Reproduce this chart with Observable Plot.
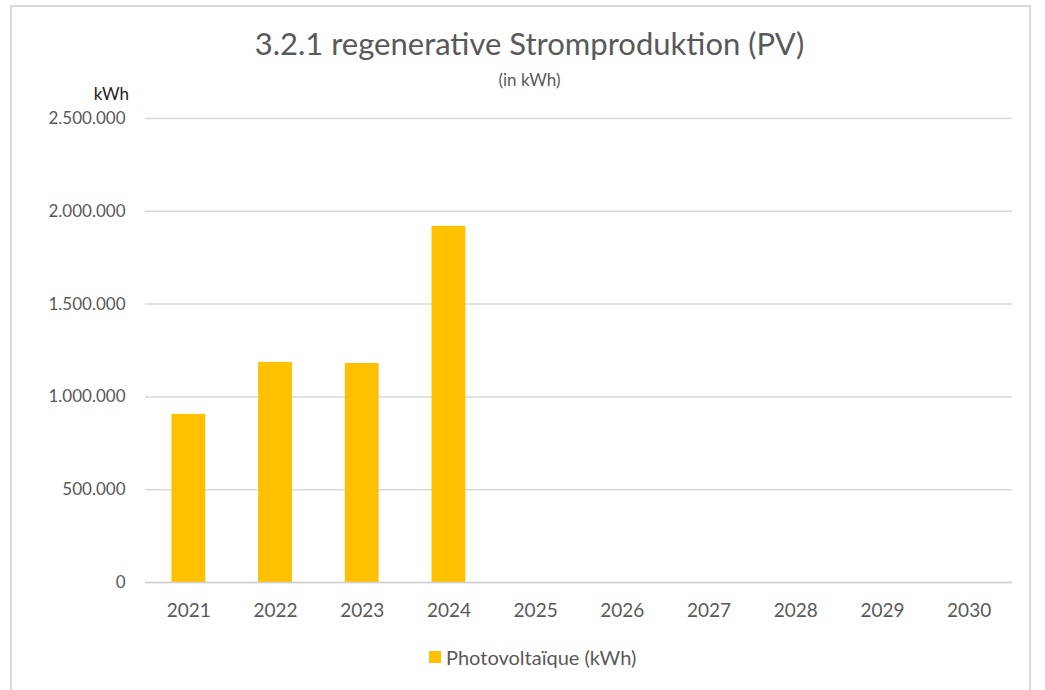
<!DOCTYPE html>
<html>
<head>
<meta charset="utf-8">
<script src="https://cdn.jsdelivr.net/npm/d3@7"></script>
<script src="https://cdn.jsdelivr.net/npm/@observablehq/plot@0.6"></script>
<style>
  body { margin: 0; background: #fff; font-family: Lato, "Open Sans", sans-serif; }
  #wrap { position: relative; width: 1045px; height: 690px; overflow: hidden; }
  #frame { position: absolute; left: 10px; top: 5px; width: 1021px; height: 700px; border: 2px solid #d9d9d9; box-sizing: border-box; }
  #chart { position: absolute; left: 0; top: 0; }
  #chart svg g[aria-label="x-axis tick label"] { font-size: 19px; }
  .lbl { position: absolute; white-space: nowrap; line-height: 1; }
  #title { left: 529.5px; top: 28px; transform: translateX(-50%); font-size: 31px; color: #595959; }
  #subtitle { left: 529.5px; top: 71px; transform: translateX(-50%); font-size: 17px; color: #595959; }
  #unit { right: 916px; top: 85px; font-size: 17px; color: #222; }
  #legend { left: 429px; top: 647px; font-size: 20px; color: #595959; display: flex; align-items: center; }
  #legend .sw { width: 12px; height: 12px; margin-right: 5px; }
</style>
</head>
<body>
<div id="wrap">
  <div id="frame"></div>
  <div id="chart"></div>
  <div class="lbl" id="title"></div>
  <div class="lbl" id="subtitle"></div>
  <div class="lbl" id="unit"></div>
  <div class="lbl" id="legend"></div>
</div>
<script>
const titleText = "3.2.1 regenerative Stromproduktion (PV)";
const subtitleText = "(in kWh)";
const unitText = "kWh";
const seriesName = "Photovoltaïque (kWh)";
const seriesColor = "#FFC000";
const years = ["2021", "2022", "2023", "2024", "2025", "2026", "2027", "2028", "2029", "2030"];
const values = [906000, 1186000, 1180000, 1919000, null, null, null, null, null, null];
const yTicks = [0, 500000, 1000000, 1500000, 2000000, 2500000];

const de = d3.formatLocale({decimal: ",", thousands: ".", grouping: [3], currency: ["", " €"]});
const fmt = de.format(",.0f");

const data = years.map((y, i) => ({year: y, value: values[i]})).filter(d => d.value != null);

const plot = Plot.plot({
  width: 1045,
  height: 690,
  marginLeft: 145,
  marginRight: 33,
  marginTop: 118,
  marginBottom: 108,
  style: {fontFamily: "Lato, 'Open Sans', sans-serif", fontSize: "17px", color: "#595959", background: "transparent"},
  x: {domain: years, paddingInner: 0.61, paddingOuter: 0.305, round: false, label: null, tickSize: 0, tickPadding: 21},
  y: {domain: [0, 2500000], ticks: yTicks, tickFormat: fmt, label: null, tickSize: 0, tickPadding: 20},
  marks: [
    Plot.gridY(yTicks, {stroke: "#d9d9d9", strokeOpacity: 1, strokeWidth: 1.5}),
    Plot.barY(data, {x: "year", y: "value", fill: seriesColor}),
    Plot.ruleY([0], {stroke: "#d0d0d0", strokeWidth: 1.5})
  ]
});
document.getElementById("chart").appendChild(plot);
document.getElementById("title").textContent = titleText;
document.getElementById("subtitle").textContent = subtitleText;
document.getElementById("unit").textContent = unitText;
const lg = document.getElementById("legend");
const sw = document.createElement("span");
sw.className = "sw";
sw.style.background = seriesColor;
lg.appendChild(sw);
const lt = document.createElement("span");
lt.textContent = seriesName;
lg.appendChild(lt);
</script>
</body>
</html>
